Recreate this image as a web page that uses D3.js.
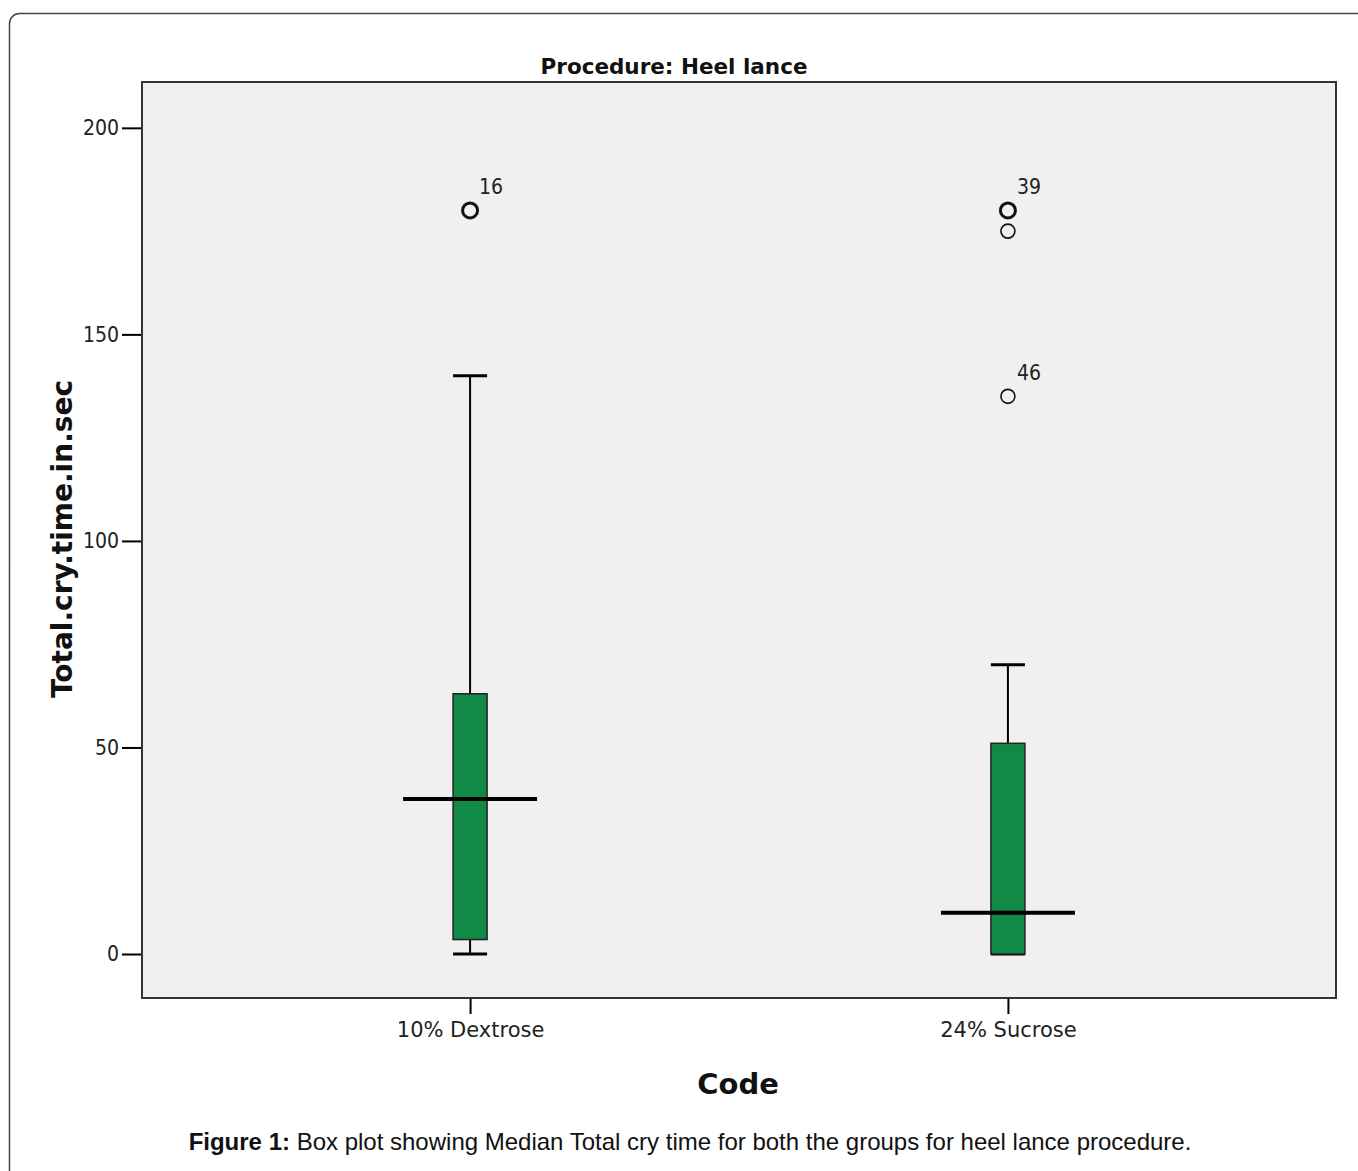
<!DOCTYPE html>
<html><head><meta charset="utf-8">
<script src="https://cdn.jsdelivr.net/npm/d3@7/dist/d3.min.js"></script>
<style>html,body{margin:0;padding:0;background:#fff;}</style>
</head><body>
<svg id="chart" width="1358" height="1171"></svg>
<script>
// ---- data ----
const categories = ["10% Dextrose", "24% Sucrose"];
const whiskerLow  = [0, 0];
const q1          = [3.5, 0];
const medians     = [37.5, 10];
const q3          = [63, 51];
const whiskerHigh = [140, 70];
const outlierGroup  = ["10% Dextrose", "24% Sucrose", "24% Sucrose", "24% Sucrose"];
const outlierValue  = [180, 180, 175, 135];
const outlierLabel  = ["16", "39", "", "46"];
const outlierCases  = [2, 2, 1, 1];
const yTicks = [0, 50, 100, 150, 200];
const chartTitle = "Procedure: Heel lance";
const yTitle = "Total.cry.time.in.sec";
const xTitle = "Code";
const captionBold = "Figure 1:";
const captionText = " Box plot showing Median Total cry time for both the groups for heel lance procedure.";

// ---- layout ----
const svg = d3.select("#chart");
const L = 142, T = 82, R = 1336, B = 998;
const condFont = "'DejaVu Sans Condensed','DejaVu Sans',sans-serif";
const wideFont = "'DejaVu Sans',sans-serif";

// outer frame
svg.append("rect").attr("x", 9.5).attr("y", 13.5).attr("width", 1400).attr("height", 1200)
  .attr("rx", 10).attr("fill", "#fff").attr("stroke", "#444").attr("stroke-width", 1.5);

const y = d3.scaleLinear().domain([-10.65, 211.1]).range([B, T]);
const x = d3.scalePoint().domain(categories).range([L, R]).padding(0.61);

// plot background
svg.append("rect").attr("x", L).attr("y", T).attr("width", R - L).attr("height", B - T)
  .attr("fill", "#f0f0f0");

// y axis
const yAxis = svg.append("g").attr("transform", `translate(${L},0)`)
  .call(d3.axisLeft(y).tickValues(yTicks).tickSize(20).tickPadding(3).tickFormat(d3.format("d")));
yAxis.select(".domain").remove();
yAxis.selectAll(".tick line").attr("stroke", "#000").attr("stroke-width", 2);
yAxis.selectAll(".tick text").attr("font-family", condFont).attr("font-size", 21).attr("fill", "#222");

// x axis
const xAxis = svg.append("g").attr("transform", `translate(0,${B})`)
  .call(d3.axisBottom(x).tickSize(16).tickPadding(8));
xAxis.select(".domain").remove();
xAxis.selectAll(".tick line").attr("stroke", "#000").attr("stroke-width", 2);
xAxis.selectAll(".tick text").attr("font-family", wideFont).attr("font-size", 21).attr("fill", "#222");

// boxes
const bw = 34, medW = 134, capW = 34;
const g = svg.append("g");
categories.forEach((c, i) => {
  const cx = x(c);
  g.append("line").attr("x1", cx).attr("x2", cx).attr("y1", y(q3[i])).attr("y2", y(whiskerHigh[i]))
    .attr("stroke", "#000").attr("stroke-width", 2);
  g.append("line").attr("x1", cx).attr("x2", cx).attr("y1", y(q1[i])).attr("y2", y(whiskerLow[i]))
    .attr("stroke", "#000").attr("stroke-width", 2);
  [whiskerHigh[i], whiskerLow[i]].forEach(v => {
    g.append("line").attr("x1", cx - capW / 2).attr("x2", cx + capW / 2).attr("y1", y(v)).attr("y2", y(v))
      .attr("stroke", "#000").attr("stroke-width", 3);
  });
  g.append("rect").attr("x", cx - bw / 2).attr("y", y(q3[i])).attr("width", bw)
    .attr("height", y(q1[i]) - y(q3[i])).attr("fill", "#118a45").attr("stroke", "#222").attr("stroke-width", 1.5);
  g.append("line").attr("x1", cx - medW / 2).attr("x2", cx + medW / 2).attr("y1", y(medians[i])).attr("y2", y(medians[i]))
    .attr("stroke", "#000").attr("stroke-width", 4);
});

// outliers
outlierValue.forEach((v, i) => {
  const cx = x(outlierGroup[i]), cy = y(v);
  g.append("circle").attr("cx", cx).attr("cy", cy).attr("r", outlierCases[i] > 1 ? 7.5 : 7)
    .attr("fill", "none").attr("stroke", "#111").attr("stroke-width", outlierCases[i] > 1 ? 3 : 1.6);
  if (outlierLabel[i]) {
    g.append("text").attr("x", cx + 9).attr("y", cy - 16).text(outlierLabel[i])
      .attr("font-family", condFont).attr("font-size", 21).attr("fill", "#222");
  }
});

// frame
svg.append("rect").attr("x", L).attr("y", T).attr("width", R - L).attr("height", B - T)
  .attr("fill", "none").attr("stroke", "#333").attr("stroke-width", 2);

// titles
svg.append("text").attr("x", 674).attr("y", 74).attr("text-anchor", "middle")
  .attr("font-family", wideFont).attr("font-weight", "bold").attr("font-size", 21.5).attr("fill", "#111")
  .text(chartTitle);
svg.append("text").attr("transform", `translate(72,539) rotate(-90)`).attr("text-anchor", "middle")
  .attr("font-family", wideFont).attr("font-weight", "bold").attr("font-size", 28).attr("fill", "#111")
  .text(yTitle);
svg.append("text").attr("x", 738).attr("y", 1094).attr("text-anchor", "middle")
  .attr("font-family", wideFont).attr("font-weight", "bold").attr("font-size", 29).attr("fill", "#111")
  .text(xTitle);
const cap = svg.append("text").attr("x", 690).attr("y", 1150).attr("text-anchor", "middle")
  .attr("font-family", "'Liberation Sans',Arial,sans-serif").attr("font-size", 24).attr("fill", "#111");
cap.append("tspan").attr("font-weight", "bold").text(captionBold);
cap.append("tspan").text(captionText);
</script>
</body></html>
